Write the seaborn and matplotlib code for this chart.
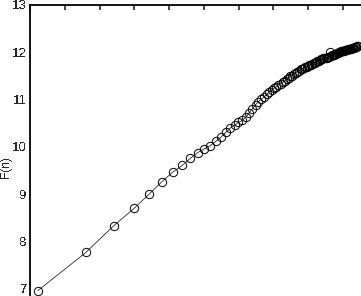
import numpy as np
import pandas as pd
import matplotlib
matplotlib.use("Agg")
import matplotlib.pyplot as plt
import seaborn as sns

# box sizes n = 5, 10, ..., 500 and fluctuation values
n_vals = list(range(5, 505, 5))
F_vals = [6.96, 7.77, 8.34, 8.70, 9.01, 9.27, 9.47, 9.61, 9.76, 9.88,
          9.96, 10.03, 10.12, 10.21, 10.31, 10.40, 10.46, 10.52, 10.56, 10.63,
          10.72, 10.81, 10.89, 10.96, 11.01, 11.06, 11.11, 11.16, 11.20, 11.24,
          11.27, 11.31, 11.34, 11.37, 11.40, 11.43, 11.46, 11.49, 11.51, 11.54,
          11.57, 11.59, 11.61, 11.64, 11.65, 11.67, 11.68, 11.70, 11.71, 11.73,
          11.74, 11.75, 11.77, 11.78, 11.80, 11.81, 11.82, 11.84, 11.85, 11.86,
          11.87, 11.88, 11.88, 11.89, 11.90, 11.91, 12.00, 11.93, 11.94, 11.95,
          11.95, 11.96, 11.97, 11.98, 11.99, 12.00, 12.00, 12.01, 12.02, 12.02,
          12.03, 12.03, 12.04, 12.04, 12.05, 12.05, 12.06, 12.06, 12.07, 12.07,
          12.08, 12.09, 12.09, 12.10, 12.10, 12.11, 12.12, 12.12, 12.13, 12.13]
y_ticks = [7, 8, 9, 10, 11, 12, 13]

df = pd.DataFrame({"logn": np.log(n_vals), "F": F_vals})

sns.set_style("white")
plt.rcParams["font.family"] = ["Liberation Sans Narrow", "Liberation Sans", "DejaVu Sans"]
plt.rcParams["text.antialiased"] = False

fig = plt.figure(figsize=(3.61, 2.96), dpi=100)
ax = fig.add_axes([30 / 361, -16.6 / 296, 347.5 / 361, 307.6 / 296])

sns.lineplot(data=df, x="logn", y="F", ax=ax, color="black", linewidth=0.5,
             marker="o", markersize=6, markerfacecolor="none",
             markeredgecolor="black", markeredgewidth=0.7, sort=False)

ax.set_xlim(1.5, 6.5)
ax.set_ylim(6.5, 13)
ax.set_xticks(np.arange(1.5, 6.51, 0.5))
ax.set_yticks(y_ticks)
ax.set_yticklabels([str(t) for t in y_ticks])
ax.set_xlabel("")
ax.set_ylabel("F(n)", fontsize=8.5)
ax.yaxis.set_label_coords(-0.052, 0.473)
ax.tick_params(direction="in", length=3.5, width=1.2, top=True, right=True,
               labelbottom=False, labelsize=9.5, pad=2)
for s in ax.spines.values():
    s.set_linewidth(1.3)
    s.set_color("black")

fig.savefig("out.png", dpi=100)
